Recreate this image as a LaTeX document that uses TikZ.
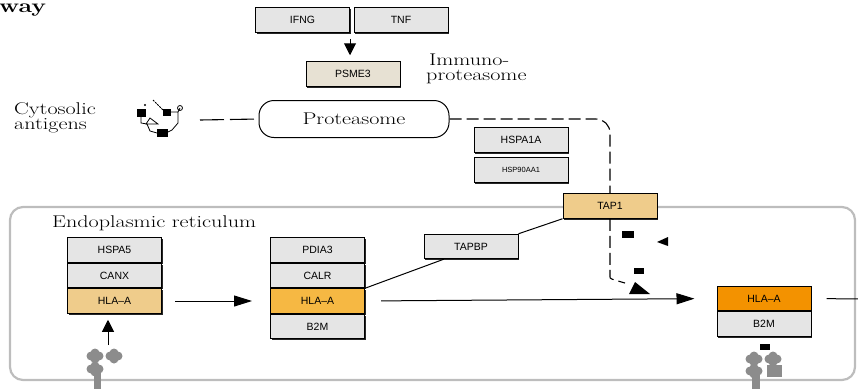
\documentclass[tikz,border=0pt]{standalone}
\usepackage{fontspec}
\newfontfamily\kgsans{Liberation Sans}
\newfontfamily\kgserif{Latin Modern Roman}[FakeStretch=1.3]
\usetikzlibrary{positioning,arrows.meta,shadows}

\definecolor{genegray}{HTML}{E5E5E5}
\definecolor{hlalight}{HTML}{EFCC8B}
\definecolor{hlamid}{HTML}{F6B843}
\definecolor{hladark}{HTML}{F39200}
\definecolor{psmebeige}{HTML}{E7E1D3}
\definecolor{ergray}{HTML}{BDBDBD}
\definecolor{rcpgray}{HTML}{8C8C8C}

\tikzset{
  gene/.style={draw=black, line width=1pt, fill=genegray, minimum width=94pt,
    minimum height=24.5pt, inner sep=0pt, font=\kgsans\fontsize{10.5}{12}\selectfont,
    drop shadow={shadow xshift=1.4pt, shadow yshift=-1.4pt, fill=black!85, opacity=1}},
  label/.style={inner sep=0pt, align=left, font=\kgserif\fontsize{17}{15}\selectfont},
  arrh/.style={-{Triangle[length=18pt,width=11pt]}, line width=1pt},
  arrv/.style={-{Triangle[length=12pt,width=12pt]}, line width=1pt},
  link/.style={line width=1pt},
  flow/.style={line width=1.1pt, dash pattern=on 12pt off 5pt, rounded corners=14pt},
}

\begin{document}
\begin{tikzpicture}[x=1pt, y=-1pt]
  \useasboundingbox (0,0) rectangle (858,389);

  % endoplasmic reticulum
  \draw[ergray, line width=2.2pt, rounded corners=13pt] (10,207) rectangle (855,380);

  \node[anchor=base west, inner sep=0pt, font=\kgserif\bfseries\fontsize{19}{19}\selectfont] (title) at (-1,12) {way};
  \node[label, anchor=west] (cyto) at (14,118) {Cytosolic\\antigens};
  \node[label, anchor=west] (immuno) at (426,69) {\,Immuno-\\proteasome};
  \node[label, anchor=west] (er) at (52,223) {Endoplasmic reticulum};

  % cytokines
  \node[gene] (ifng) at (302.5,20) {IFNG};
  \node[gene] (tnf) at (401,20) {TNF};
  \node[gene, fill=psmebeige] (psme3) at (353,74) {PSME3};
  \draw[arrv, shorten <=6pt, shorten >=6pt] (ifng.south east) -- (ifng.south east |- psme3.north);

  % proteasome
  \node[draw, line width=1pt, rounded corners=15pt, minimum width=190pt, minimum height=37pt,
    font=\kgserif\fontsize{17}{17}\selectfont] (prot) at (354,119) {Proteasome};

  \node[gene] (hspa1a) at (521,140) {HSPA1A};
  \node[gene, font=\kgsans\fontsize{7.5}{9}\selectfont] (hsp90) at (521,170) {HSP90AA1};

  % antigen
  \coordinate (antg) at (200,120);
  \fill (137,109) rectangle (146,117);
  \fill (163,109) rectangle (171,116);
  \fill (157,129) rectangle (168,137);
  \fill (145,105) circle (1.2pt);
  \draw[line width=0.8pt, dash pattern=on 2pt off 1pt] (153,100) -- (164,111);
  \draw[line width=0.8pt] (141,117) -- (141,123) -- (147,124);
  \draw[line width=0.8pt] (150,118) -- (158,124) -- (146,124) -- cycle;
  \draw[line width=0.8pt] (147,124) -- (150,131) -- (157,133);
  \draw[line width=0.8pt] (171,112) -- (178,112) -- (178,123) -- (172,130) -- (168,132);
  \draw[line width=0.8pt] (178,112) -- (180,108) circle (2.5pt);
  \draw[line width=1.1pt, dash pattern=on 24pt off 6pt] (antg) -- (prot.west);

  % transport
  \node[gene, fill=hlalight] (tap1) at (610,206) {TAP1};
  \node[gene] (tapbp) at (471,246.5) {TAPBP};
  \draw[flow] (prot.east) -- (prot.east -| tap1.north) -- (tap1.north);
  \coordinate (pepin) at (625,283);
  \draw[flow] (tap1.south) -- ++(0,44) .. controls ++(0,16) .. (pepin);

  % peptides
  \fill (622,231) rectangle (634,238);
  \fill (668,237) -- (657,242) -- (668,246) -- cycle;
  \fill (634,268) rectangle (644,274);
  \fill (635,282) -- (629,294) -- (650,294) -- cycle;
  \fill (760,344) rectangle (770,350);

  % complexes
  \node[gene] (hspa5) at (114.5,250) {HSPA5};
  \node[gene, below=0pt of hspa5] (canx) {CANX};
  \node[gene, fill=hlalight, below=0pt of canx] (hlaA1) {HLA\textendash A};

  \node[gene] (pdia3) at (317.5,250) {PDIA3};
  \node[gene, below=0pt of pdia3] (calr) {CALR};
  \node[gene, fill=hlamid, below=0pt of calr] (hlaA2) {HLA\textendash A};
  \node[gene, below=0pt of hlaA2] (b2m1) {B2M};

  \node[gene, fill=hladark] (hlaA3) at (764,298.5) {HLA\textendash A};
  \node[gene, below=0pt of hlaA3] (b2m2) {B2M};

  \draw[link] (calr.south east) -- (tapbp.205);
  \draw[link] (tapbp.north east) -- (tap1.south west);

  \draw[arrh, shorten <=13pt, shorten >=18pt] (hlaA1.east) -- (hlaA2.west);
  \draw[arrh, shorten <=16pt, shorten >=22pt] (hlaA2.east) -- (hlaA3.west);
  \coordinate (exit) at (862,299);
  \draw[link, shorten <=15pt] (hlaA3.east) -- (exit);

  % receptors
  \coordinate (rcpL) at (108,345);
  \draw[arrv, shorten >=6pt] (rcpL) -- (rcpL |- hlaA1.south);
  \fill[rcpgray] (94,368) rectangle (101,389);
  \foreach \cx/\cy in {95/356, 114/356, 95/369} {
    \fill[rcpgray] (\cx-4,\cy) circle (4.5pt) (\cx+4,\cy) circle (4.5pt)
      (\cx,\cy-3) circle (4.5pt) (\cx,\cy+3) circle (4.5pt);
  }
  \fill[rcpgray] (752,372) rectangle (760,389);
  \foreach \cx/\cy in {754/359, 773/359, 754/371} {
    \fill[rcpgray] (\cx-4,\cy) circle (4.5pt) (\cx+4,\cy) circle (4.5pt)
      (\cx,\cy-3) circle (4.5pt) (\cx,\cy+3) circle (4.5pt);
  }
  \fill[rcpgray] (767,365) rectangle (782,377);
\end{tikzpicture}
\end{document}
